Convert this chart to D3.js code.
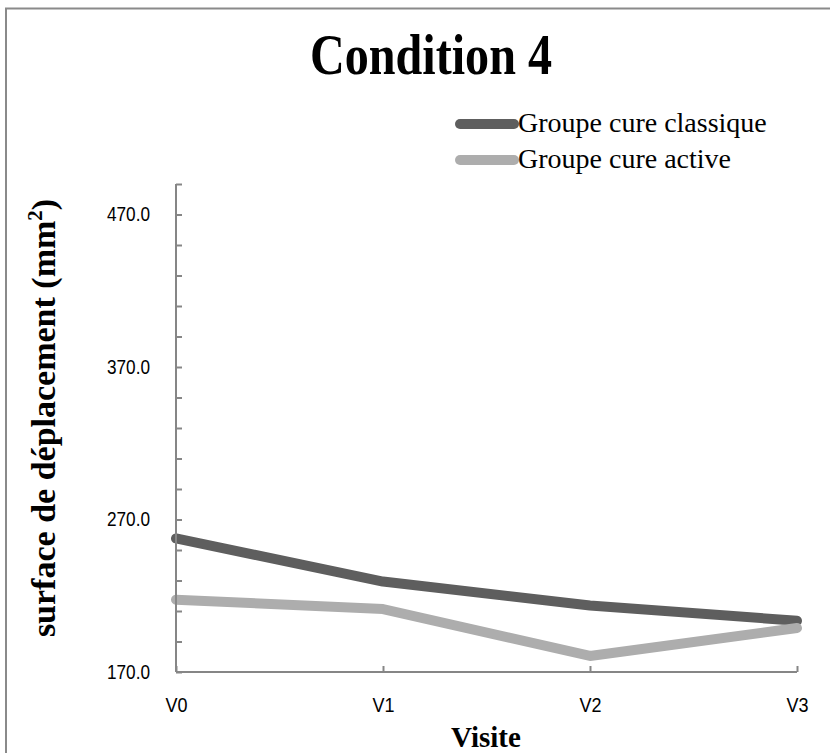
<!DOCTYPE html>
<html><head><meta charset="utf-8">
<script src="https://cdn.jsdelivr.net/npm/d3@7"></script>
<style>body{margin:0;background:#fff}svg{display:block}</style>
</head><body>
<svg id="c" width="830" height="753"></svg>
<script>
const categories = ["V0","V1","V2","V3"];
const classique = [257.6, 229.3, 213.6, 203.6];
const active = [217.4, 211.3, 180.5, 198.8];
const seriesNames = ["Groupe cure classique","Groupe cure active"];
const yMajorTicks = [170, 270, 370, 470];
const yMinorTicks = d3.range(170, 491, 20);

const svg = d3.select("#c");
svg.append("rect").attr("x",6).attr("y",8.5).attr("width",900).attr("height",900)
  .attr("fill","none").attr("stroke","#8a8a8a").attr("stroke-width",2);

const x = d3.scalePoint().domain(categories).range([176, 797]);
const y = d3.scaleLinear().domain([170, 490]).range([672, 184]);
const axisColor = "#868686";

// title
svg.append("text").attr("transform","translate(431,74) scale(0.86,1)").attr("text-anchor","middle")
  .attr("font-family","Liberation Serif").attr("font-weight","bold").attr("font-size",56)
  .text("Condition 4");

// lines
const line = d3.line().x((d,i)=>x(categories[i])).y(d=>y(d));
const colors = ["#5e5e5e","#adadad"];
[classique, active].forEach((s,k)=>{
  svg.append("path").datum(s).attr("d",line).attr("fill","none")
    .attr("stroke",colors[k]).attr("stroke-width",10)
    .attr("stroke-linecap","round").attr("stroke-linejoin","round");
});

// y axis
const yAxis = d3.axisRight(y).tickValues(yMinorTicks).tickSize(6).tickFormat("");
const gy = svg.append("g").attr("transform","translate(176,0)").call(yAxis);
gy.select(".domain").attr("stroke",axisColor).attr("stroke-width",2).attr("d","M0,184V672");
gy.selectAll(".tick line").attr("stroke",axisColor).attr("stroke-width",2);
const gyl = svg.append("g").attr("transform","translate(176,0)").call(d3.axisLeft(y).tickValues(yMajorTicks).tickSize(0).tickPadding(26).tickFormat(d3.format(".1f")));
gyl.select(".domain").remove();
gyl.selectAll("text").attr("font-family","Liberation Sans").attr("font-size",20).attr("fill","#000")
  .attr("textLength",43).attr("lengthAdjust","spacingAndGlyphs");

// x axis
const xAxis = d3.axisTop(x).tickSize(6).tickFormat("");
const gx = svg.append("g").attr("transform","translate(0,672)").call(xAxis);
gx.select(".domain").attr("stroke",axisColor).attr("stroke-width",2).attr("d","M176,0H797");
gx.selectAll(".tick line").attr("stroke",axisColor).attr("stroke-width",2);
const gxl = svg.append("g").attr("transform","translate(0,672)").call(d3.axisBottom(x).tickSize(0).tickPadding(26));
gxl.select(".domain").remove();
gxl.selectAll("text").attr("font-family","Liberation Sans").attr("font-size",20).attr("fill","#000")
  .attr("textLength",22).attr("lengthAdjust","spacingAndGlyphs");

// axis titles
svg.append("text").attr("x",486).attr("y",747).attr("text-anchor","middle")
  .attr("font-family","Liberation Serif").attr("font-weight","bold").attr("font-size",29)
  .text("Visite");
const yt = svg.append("text").attr("transform","translate(55,418) rotate(-90)").attr("text-anchor","middle")
  .attr("font-family","Liberation Serif").attr("font-weight","bold").attr("font-size",34);
yt.append("tspan").text("surface de déplacement (mm");
yt.append("tspan").attr("font-size",21).attr("dy",-13).text("2");
yt.append("tspan").attr("dy",13).text(")");

// legend
seriesNames.forEach((n,k)=>{
  const ly = 124 + k*36;
  svg.append("line").attr("x1",460).attr("x2",514).attr("y1",ly).attr("y2",ly)
    .attr("stroke",colors[k]).attr("stroke-width",10).attr("stroke-linecap","round");
  svg.append("text").attr("x",518).attr("y",ly+8).attr("font-family","Liberation Serif")
    .attr("font-size",28).text(n);
});
</script>
</body></html>
